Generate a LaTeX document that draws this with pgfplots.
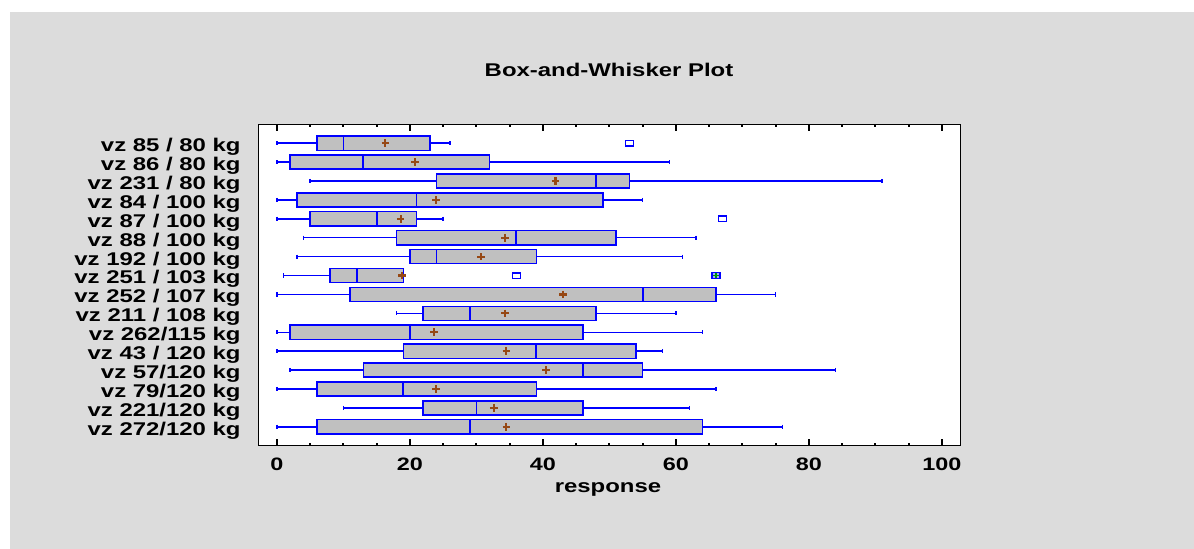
\documentclass[border=0pt]{standalone}
\usepackage{pgfplots}
\pgfplotsset{compat=1.18}
\usepgfplotslibrary{statistics}
\usepackage{fontspec}
\setmainfont{Liberation Sans}[FakeStretch=1.3]

\definecolor{panelgray}{RGB}{220,220,220}
\definecolor{boxgray}{RGB}{192,192,192}
\definecolor{meanbrown}{RGB}{150,72,20}
\definecolor{farplus}{RGB}{0,150,0}

\begin{document}
\begin{tikzpicture}
% page and grey panel
\fill[white] (0pt,0pt) rectangle (597pt,274.5pt);
\fill[panelgray] (5pt,0pt) rectangle (597pt,268.5pt);

\begin{axis}[
  at={(129.15pt,51.65pt)}, anchor=south west,
  scale only axis, width=351.15pt, height=160.7pt,
  xmin=-2.8, xmax=102.8, ymin=0, ymax=17, y dir=reverse,
  axis background/.style={fill=white},
  axis line style={black, line width=0.75pt},
  xtick={0,20,...,100}, minor x tick num=3,
  xtick pos=both, tick align=inside,
  major tick length=3.3pt, minor tick length=1.4pt,
  tick style={black, line width=1pt},
  ytick={1,...,16},
  ytick style={draw=none},
  yticklabels={vz 85 / 80 kg, vz 86 / 80 kg, vz 231 / 80 kg, vz 84 / 100 kg,
    vz 87 / 100 kg, vz 88 / 100 kg, vz 192 / 100 kg, vz 251 / 103 kg,
    vz 252 / 107 kg, vz 211 / 108 kg, vz 262/115 kg, vz 43 / 120 kg,
    vz 57/120 kg, vz 79/120 kg, vz 221/120 kg, vz 272/120 kg},
  /pgf/number format/assume math mode=true,
  xticklabel style={font=\bfseries\fontsize{9}{10}\selectfont, anchor=base, inner sep=0pt, yshift=-12.65pt},
  yticklabel style={font=\bfseries\fontsize{9.2}{10}\selectfont, anchor=base east, inner sep=0pt, xshift=-8.65pt, yshift=-4.2pt},
  boxplot/draw direction=x,
  boxplot/box extend=0.75,
  boxplot/whisker extend=0.22,
  boxplot/every box/.style={fill=boxgray, draw=blue, line width=0.75pt},
  boxplot/every whisker/.style={draw=blue, line width=0.75pt},
  boxplot/every median/.style={draw=blue, line width=0.9pt},
  clip=false,
]

\addplot[blue, line width=0.75pt, boxplot prepared={draw position=1,  lower whisker=0,  lower quartile=6,  median=10, upper quartile=23, upper whisker=26}] coordinates {};
\addplot[blue, line width=0.75pt, boxplot prepared={draw position=2,  lower whisker=0,  lower quartile=2,  median=13, upper quartile=32, upper whisker=59}] coordinates {};
\addplot[blue, line width=0.75pt, boxplot prepared={draw position=3,  lower whisker=5,  lower quartile=24, median=48, upper quartile=53, upper whisker=91}] coordinates {};
\addplot[blue, line width=0.75pt, boxplot prepared={draw position=4,  lower whisker=0,  lower quartile=3,  median=21, upper quartile=49, upper whisker=55}] coordinates {};
\addplot[blue, line width=0.75pt, boxplot prepared={draw position=5,  lower whisker=0,  lower quartile=5,  median=15, upper quartile=21, upper whisker=25}] coordinates {};
\addplot[blue, line width=0.75pt, boxplot prepared={draw position=6,  lower whisker=4,  lower quartile=18, median=36, upper quartile=51, upper whisker=63}] coordinates {};
\addplot[blue, line width=0.75pt, boxplot prepared={draw position=7,  lower whisker=3,  lower quartile=20, median=24, upper quartile=39, upper whisker=61}] coordinates {};
\addplot[blue, line width=0.75pt, boxplot prepared={draw position=8,  lower whisker=1,  lower quartile=8,  median=12, upper quartile=19, upper whisker=19}] coordinates {};
\addplot[blue, line width=0.75pt, boxplot prepared={draw position=9,  lower whisker=0,  lower quartile=11, median=55, upper quartile=66, upper whisker=75}] coordinates {};
\addplot[blue, line width=0.75pt, boxplot prepared={draw position=10, lower whisker=18, lower quartile=22, median=29, upper quartile=48, upper whisker=60}] coordinates {};
\addplot[blue, line width=0.75pt, boxplot prepared={draw position=11, lower whisker=0,  lower quartile=2,  median=20, upper quartile=46, upper whisker=64}] coordinates {};
\addplot[blue, line width=0.75pt, boxplot prepared={draw position=12, lower whisker=0,  lower quartile=19, median=39, upper quartile=54, upper whisker=58}] coordinates {};
\addplot[blue, line width=0.75pt, boxplot prepared={draw position=13, lower whisker=2,  lower quartile=13, median=46, upper quartile=55, upper whisker=84}] coordinates {};
\addplot[blue, line width=0.75pt, boxplot prepared={draw position=14, lower whisker=0,  lower quartile=6,  median=19, upper quartile=39, upper whisker=66}] coordinates {};
\addplot[blue, line width=0.75pt, boxplot prepared={draw position=15, lower whisker=10, lower quartile=22, median=30, upper quartile=46, upper whisker=62}] coordinates {};
\addplot[blue, line width=0.75pt, boxplot prepared={draw position=16, lower whisker=0,  lower quartile=6,  median=29, upper quartile=64, upper whisker=76}] coordinates {};

% means
\addplot[only marks, mark=+, mark size=1.9pt, color=meanbrown, mark options={line width=1.1pt}] coordinates {
  (16.3,1) (20.8,2) (41.9,3) (23.9,4) (18.6,5) (34.3,6) (30.7,7) (18.8,8)
  (43.0,9) (34.3,10) (23.6,11) (34.5,12) (40.5,13) (23.9,14) (32.6,15) (34.5,16)};

% outside points
\addplot[only marks, mark=square*, mark size=2pt, draw=blue, fill=white, mark options={yscale=0.7, line width=0.8pt}] coordinates {
  (53,1) (67,5) (36,8)};
% far outside point
\addplot[only marks, mark=square*, mark size=2pt, draw=blue, fill=blue!35, mark options={yscale=0.75, line width=0.8pt}] coordinates {(66,8)};
\addplot[only marks, mark=+, mark size=1.4pt, color=farplus, mark options={line width=0.9pt}] coordinates {(66,8)};
\end{axis}

\node[anchor=base, font=\bfseries\fontsize{9.2}{11}\selectfont] at (304.5pt,236.15pt) {Box-and-Whisker Plot};
\node[anchor=base, font=\bfseries\fontsize{9.2}{11}\selectfont] at (304pt,28.35pt) {response};
\end{tikzpicture}
\end{document}
